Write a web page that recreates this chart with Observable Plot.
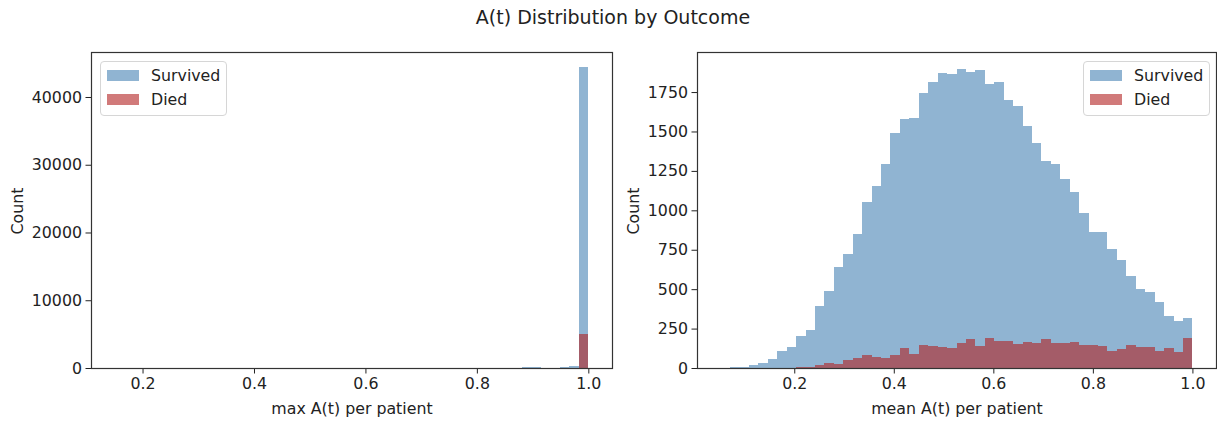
<!DOCTYPE html>
<html>
<head>
<meta charset="utf-8">
<script src="https://cdn.jsdelivr.net/npm/d3@7"></script>
<script src="https://cdn.jsdelivr.net/npm/@observablehq/plot@0.6"></script>
<style>
  body { margin: 0; background: #fff; font-family: "DejaVu Sans", sans-serif; color: #222; }
  #page { position: relative; width: 1217px; height: 423px; overflow: hidden; background: #fff; }
  .abs { position: absolute; white-space: nowrap; line-height: 1; }
  .ctr { transform: translate(-50%, -50%); }
  .rot { transform: translate(-50%, -50%) rotate(-90deg); }
  .legend { position: absolute; border: 1px solid #d6d6d6; border-radius: 4px; background: rgba(255,255,255,0.8); box-sizing: border-box; }
  .patch { position: absolute; width: 32px; height: 11px; }
  .ltext { position: absolute; font-size: 15.8px; line-height: 1; white-space: nowrap; }
  svg { position: absolute; top: 0; }
</style>
</head>
<body>
<div id="page"></div>
<script>
// ---- data ----
const title = "A(t) Distribution by Outcome";
const seriesNames = ["Survived", "Died"];
const seriesColors = ["steelblue", "firebrick"];
const nBins = 50;

// Left panel: max A(t) per patient, 50 bins from 0.15 to 1.0
const maxBinRange = [0.15, 1.0];
const maxSurvived = [
  1, 0, 0, 0, 0, 0, 0, 0, 0, 0,
  0, 0, 0, 0, 0, 0, 0, 0, 0, 0,
  0, 0, 0, 0, 0, 0, 0, 0, 0, 0,
  0, 0, 0, 0, 0, 0, 0, 0, 2, 5,
  10, 20, 60, 80, 90, 70, 40, 120, 250, 44400
];
const maxDied = [
  0, 0, 0, 0, 0, 0, 0, 0, 0, 0,
  0, 0, 0, 0, 0, 0, 0, 0, 0, 0,
  0, 0, 0, 0, 0, 0, 0, 0, 0, 0,
  0, 0, 0, 0, 0, 0, 0, 0, 0, 0,
  0, 0, 5, 5, 10, 5, 5, 20, 40, 4960
];

// Right panel: mean A(t) per patient, 50 bins from 0.052 to 1.0
const meanBinRange = [0.052, 1.0];
const meanSurvived = [
  3, 4, 7, 22, 32, 58, 105, 131, 200, 244,
  392, 490, 639, 726, 848, 1055, 1157, 1294, 1489, 1578,
  1583, 1741, 1812, 1870, 1866, 1899, 1876, 1887, 1802, 1816,
  1701, 1662, 1532, 1425, 1315, 1295, 1196, 1113, 983, 862,
  862, 754, 687, 581, 502, 480, 416, 331, 296, 317
];
const meanDied = [
  0, 0, 0, 0, 0, 1, 2, 3, 4, 6,
  20, 32, 27, 51, 61, 82, 71, 65, 82, 128,
  89, 146, 141, 135, 125, 161, 182, 139, 188, 173,
  173, 152, 167, 156, 182, 156, 156, 163, 148, 144,
  141, 108, 118, 146, 135, 134, 110, 125, 103, 188
];

const xTicks = [0.2, 0.4, 0.6, 0.8, 1.0];
const maxYTicks = [0, 10000, 20000, 30000, 40000];
const meanYTicks = [0, 250, 500, 750, 1000, 1250, 1500, 1750];
const maxXLabel = "max A(t) per patient";
const meanXLabel = "mean A(t) per patient";
const yLabel = "Count";

// ---- drawing ----
const page = document.getElementById("page");

function rowsFor(values, range) {
  const edges = d3.range(nBins + 1).map(i => range[0] + (range[1] - range[0]) * i / nBins);
  return values.map((v, i) => ({ x1: edges[i], x2: edges[i + 1], y1: 0, y2: v }));
}

function panel({ left, width, marginLeft, marginRight, xDomain, yDomain, yTicks, survived, died, range }) {
  const svg = Plot.plot({
    width, height: 423,
    marginLeft, marginRight, marginTop: 52, marginBottom: 55,
    x: { domain: xDomain, ticks: xTicks, tickFormat: d3.format(".1f"), tickSize: 5.5, tickPadding: 4, label: null },
    y: { domain: yDomain, ticks: yTicks, tickFormat: d => String(d), tickSize: 5.5, tickPadding: 4, label: null },
    style: { fontFamily: "DejaVu Sans", fontSize: "15.8px", color: "#222", background: "transparent", overflow: "visible" },
    marks: [
      Plot.rect(rowsFor(survived, range), { x1: "x1", x2: "x2", y1: "y1", y2: "y2", fill: seriesColors[0], fillOpacity: 0.6, shapeRendering: "crispEdges" }),
      Plot.rect(rowsFor(died, range), { x1: "x1", x2: "x2", y1: "y1", y2: "y2", fill: seriesColors[1], fillOpacity: 0.6, shapeRendering: "crispEdges" }),
      Plot.frame({ stroke: "#333", strokeWidth: 1.2 })
    ]
  });
  svg.style.left = left + "px";
  page.appendChild(svg);
}

panel({ left: 0, width: 620, marginLeft: 91, marginRight: 8,
  xDomain: [0.1075, 1.0425], yDomain: [0, 46640], yTicks: maxYTicks,
  survived: maxSurvived, died: maxDied, range: maxBinRange });

panel({ left: 620, width: 597, marginLeft: 77, marginRight: 1,
  xDomain: [0.0046, 1.0474], yDomain: [0, 2004], yTicks: meanYTicks,
  survived: meanSurvived, died: meanDied, range: meanBinRange });

function addText(txt, x, y, size, cls) {
  const d = document.createElement("div");
  d.className = "abs " + cls;
  d.style.left = x + "px";
  d.style.top = y + "px";
  d.style.fontSize = size + "px";
  d.textContent = txt;
  page.appendChild(d);
}

addText(title, 613, 17, 19, "ctr");
addText(maxXLabel, 352, 409, 15.8, "ctr");
addText(meanXLabel, 957, 409, 15.8, "ctr");
addText(yLabel, 18, 211, 15.8, "rot");
addText(yLabel, 634, 211, 15.8, "rot");

function legend(x, y) {
  const box = document.createElement("div");
  box.className = "legend";
  box.style.left = x + "px";
  box.style.top = y + "px";
  box.style.width = "127px";
  box.style.height = "55px";
  const fills = ["rgba(70,130,180,0.6)", "rgba(178,34,34,0.6)"];
  seriesNames.forEach((name, i) => {
    const p = document.createElement("div");
    p.className = "patch";
    p.style.left = "6px";
    p.style.top = (8 + i * 24) + "px";
    p.style.background = fills[i];
    box.appendChild(p);
    const t = document.createElement("div");
    t.className = "ltext";
    t.style.left = "50px";
    t.style.top = (6 + i * 24) + "px";
    t.textContent = name;
    box.appendChild(t);
  });
  page.appendChild(box);
}
legend(100, 61);
legend(1083, 61);
</script>
</body>
</html>
